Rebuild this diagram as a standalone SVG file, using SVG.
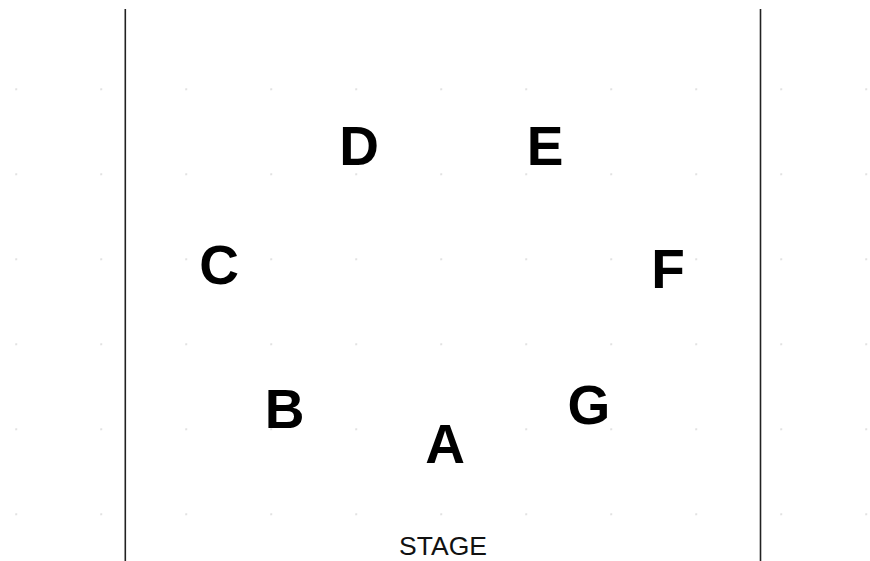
<svg xmlns="http://www.w3.org/2000/svg" width="870" height="561" viewBox="0 0 870 561">
<defs>
<style>
.lbl{font-family:"Liberation Sans",Arial,sans-serif;font-weight:bold;font-size:55px;fill:#000;text-anchor:middle}
.stage{font-family:"Liberation Sans",Arial,sans-serif;font-size:26.5px;fill:#111;text-anchor:middle}
.wall{stroke:#222;stroke-width:1.6}
.dot{fill:#bdbdbd}
</style>
<pattern id="grid" x="0" y="0" width="85" height="85" patternUnits="userSpaceOnUse" patternTransform="translate(15.5 3.5)">
<circle class="dot" cx="0.5" cy="0.5" r="0.9"/>
</pattern>
</defs>
<rect width="870" height="561" fill="#fff"/>
<rect x="0" y="60" width="870" height="470" fill="url(#grid)"/>
<g id="walls">
<line class="wall" x1="125.3" y1="9" x2="125.3" y2="561"/>
<line class="wall" x1="760.5" y1="9" x2="760.5" y2="561"/>
</g>
<g id="node-A"><text class="lbl" x="445" y="463">A</text></g>
<g id="node-B"><text class="lbl" x="284.5" y="428">B</text></g>
<g id="node-C"><text class="lbl" x="219" y="284">C</text></g>
<g id="node-D"><text class="lbl" x="359" y="165">D</text></g>
<g id="node-E"><text class="lbl" x="545" y="165">E</text></g>
<g id="node-F"><text class="lbl" x="668" y="288">F</text></g>
<g id="node-G"><text class="lbl" x="589" y="424">G</text></g>
<g id="stage"><text class="stage" x="443" y="555">STAGE</text></g>
<g id="connectors"></g>
</svg>
